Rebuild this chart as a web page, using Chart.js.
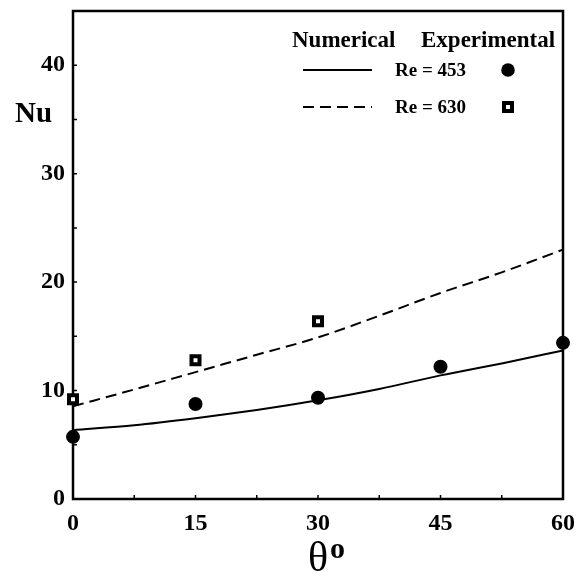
<!DOCTYPE html>
<html><head><meta charset="utf-8">
<script src="https://cdn.jsdelivr.net/npm/chart.js@4/dist/chart.umd.min.js"></script>
<style>html,body{margin:0;padding:0;background:#fff}</style>
</head><body>
<canvas id="c" width="578" height="581"></canvas>
<script>
// ---- data ----
const angles = [0, 7.5, 15, 22.5, 30, 37.5, 45, 52.5, 60];
const numRe453 = [6.35, 6.8, 7.45, 8.2, 9.1, 10.15, 11.4, 12.5, 13.7];
const numRe630 = [8.55, 10.1, 11.7, 13.3, 14.9, 16.9, 19.0, 20.9, 23.0];
const expAngles453 = [0, 15, 30, 45, 60];
const expRe453 = [5.73, 8.76, 9.34, 12.2, 14.4];
const expAngles630 = [0, 15, 30];
const expRe630 = [9.2, 12.8, 16.4];
const xTicks = [0, 15, 30, 45, 60];
const yTicks = [0, 10, 20, 30, 40];
const xMinor = [7.5, 22.5, 37.5, 52.5];
const yMinor = [5, 15, 25, 35];
const legendLabels = ['Re = 453', 'Re = 630'];

const FONT = '"Liberation Serif", "Times New Roman", serif';
const pts = (xs, ys) => xs.map((x, i) => ({x, y: ys[i]}));

const framePlugin = {
  id: 'frame',
  beforeDatasetsDraw(chart) {
    const {ctx, chartArea: a, scales: {x, y}} = chart;
    ctx.save();
    ctx.strokeStyle = '#000';
    ctx.lineWidth = 2.5;
    ctx.strokeRect(a.left, a.top, a.right - a.left, a.bottom - a.top);
    ctx.lineWidth = 1.5;
    ctx.beginPath();
    [...xTicks, ...xMinor].forEach(v => {
      const px = x.getPixelForValue(v);
      ctx.moveTo(px, a.bottom); ctx.lineTo(px, a.bottom - 4);
    });
    [...yTicks, ...yMinor].forEach(v => {
      const py = y.getPixelForValue(v);
      ctx.moveTo(a.left, py); ctx.lineTo(a.left + 4, py);
    });
    ctx.stroke();
    ctx.restore();
  },
  afterDraw(chart) {
    const {ctx, chartArea: a} = chart;
    ctx.save();
    ctx.fillStyle = '#000';
    ctx.textBaseline = 'alphabetic';
    ctx.textAlign = 'left';
    // y title
    ctx.font = 'bold 29px ' + FONT;
    ctx.fillText('Nu', 15, 122);
    // x title
    const cx = (a.left + a.right) / 2;
    ctx.font = '42px ' + FONT;
    ctx.textAlign = 'center';
    ctx.fillText('θ', cx, 571);
    ctx.textAlign = 'left';
    ctx.font = 'bold 30px ' + FONT;
    ctx.fillText('o', cx + 12, 558);
    // legend
    ctx.font = 'bold 23px ' + FONT;
    ctx.fillText('Numerical', 292, 47);
    ctx.fillText('Experimental', 421, 47);
    ctx.font = 'bold 19px ' + FONT;
    ctx.fillText(legendLabels[0], 395, 76);
    ctx.fillText(legendLabels[1], 395, 113);
    ctx.strokeStyle = '#000';
    ctx.lineWidth = 2;
    ctx.beginPath(); ctx.moveTo(303, 70); ctx.lineTo(372, 70); ctx.stroke();
    ctx.setLineDash([11, 6]);
    ctx.beginPath(); ctx.moveTo(303, 107); ctx.lineTo(372, 107); ctx.stroke();
    ctx.setLineDash([]);
    ctx.beginPath(); ctx.arc(508, 70, 6.8, 0, Math.PI * 2); ctx.fill();
    ctx.fillRect(502, 101, 12, 12);
    ctx.fillStyle = '#fff';
    ctx.fillRect(506, 105, 4, 4);
    ctx.restore();
  }
};

new Chart(document.getElementById('c'), {
  type: 'scatter',
  data: {
    datasets: [
      {label: 'Numerical Re = 453', data: pts(angles, numRe453), showLine: true,
       borderColor: '#000', borderWidth: 2, pointRadius: 0, cubicInterpolationMode: 'monotone', clip: false},
      {label: 'Numerical Re = 630', data: pts(angles, numRe630), showLine: true,
       borderColor: '#000', borderWidth: 2, borderDash: [11, 6], pointRadius: 0, cubicInterpolationMode: 'monotone', clip: false},
      {label: 'Experimental Re = 453', data: pts(expAngles453, expRe453), showLine: false,
       pointStyle: 'circle', pointRadius: 7, backgroundColor: '#000', borderColor: '#000', borderWidth: 0, clip: false},
      {label: 'Experimental Re = 630', data: pts(expAngles630, expRe630), showLine: false,
       pointStyle: 'rect', pointRadius: 5.66, backgroundColor: '#fff', borderColor: '#000', borderWidth: 4, clip: false}
    ]
  },
  options: {
    responsive: false,
    animation: false,
    layout: {padding: {left: 0, top: 11, right: 15, bottom: 0}},
    plugins: {legend: {display: false}, tooltip: {enabled: false}},
    scales: {
      x: {
        type: 'linear', min: 0, max: 60,
        grid: {display: false, drawTicks: false}, border: {display: false},
        afterBuildTicks: s => { s.ticks = xTicks.map(v => ({value: v})); },
        afterFit: s => { s.height = 82; s.paddingLeft = 0; s.paddingRight = 0; },
        ticks: {color: '#000', padding: 10, maxRotation: 0, font: {family: FONT, size: 24, weight: 'bold'}}
      },
      y: {
        type: 'linear', min: 0, max: 45,
        grid: {display: false, drawTicks: false}, border: {display: false},
        afterBuildTicks: s => { s.ticks = yTicks.map(v => ({value: v})); },
        afterFit: s => { s.width = 73; s.paddingTop = 0; s.paddingBottom = 0; },
        ticks: {color: '#000', padding: 8, font: {family: FONT, size: 24, weight: 'bold'}}
      }
    }
  },
  plugins: [framePlugin]
});
</script>
</body></html>
